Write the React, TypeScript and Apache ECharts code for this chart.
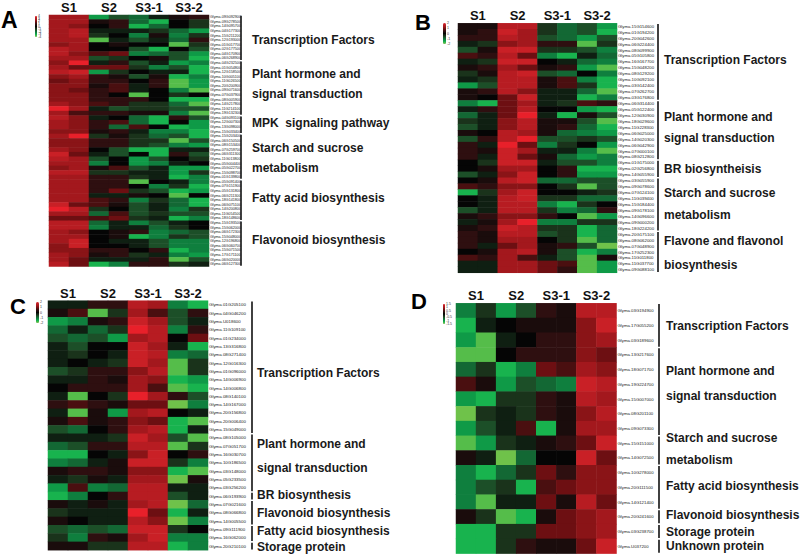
import React, { useEffect, useRef } from "react";
import * as echarts from "echarts";

const FONT = "'Liberation Sans', Arial, sans-serif";
const sampleCols = ["S1a", "S1b", "S2a", "S2b", "S3-1a", "S3-1b", "S3-2a", "S3-2b"];
const groupCols = ["S1", "S2", "S3-1", "S3-2"];
const palette = ["#6fc24a", "#55bd4a", "#18b34e", "#0f9a47", "#0f7f3e", "#136834", "#1c4f28", "#1a331b", "#0f1f12", "#050505", "#1a0c0c", "#2e0f10", "#4a0f10", "#6d0f12", "#8a1417", "#a3181d", "#b71c22", "#c92026", "#e8202a"];

const genesA = ["09G092900","09G278500","14G095700","04G177300","15G211200","12G193000","01G017700","02G177500","04G170900","06G268900","04G232500","01G054800","12G158500","10G005100","11G026500","20G200900","09G071600","07G037900","08G005900","14G217800","11G214100","19G132300","04G093100","12G007300","13G098000","15G033400","15G203400","06G150500","08G153400","07G259700","06G311300","11G013800","05G004400","05G022700","15G098700","01G139800","05G091400","07G151900","05G131800","06G211300","18G141800","06G075100","14G200800","11G054500","18G148600","15G193500","15G062000","06G172300","15G048000","12G196800","06G060700","15G071500","17G171100","06G020000","06G127300"];
const valuesA = [
[6,6,-6,-3,-4,-1,1,2],[6,6,1,2,-4,-7,0,-2],[6,5,0,2,-7,-4,0,-2],[6,7,-1,-1,-1,-2,-4,-6],[6,7,-2,0,-5,1,-5,-2],
[6,6,-8,-1,-3,-1,-4,2],[5,6,0,1,0,0,-8,-2],[7,6,0,0,-3,-7,0,-3],[7,5,3,4,-5,-4,-3,-6],[6,6,-3,-2,0,1,-3,-7],
[5,9,-1,2,-3,-1,-6,-5],[6,4,4,4,-2,-5,-3,-7],[7,8,-6,-2,0,-1,-1,-7],[5,6,2,1,-3,1,-7,-5],[4,5,2,2,0,2,-8,-6],
[5,5,1,3,-1,2,-8,-6],[5,4,2,3,-1,0,-5,-8],[5,5,2,0,-8,0,-2,0],[5,5,2,2,2,0,-7,-7],[6,5,3,2,-2,-2,-4,-8],
[9,6,-1,-3,-2,-2,-3,-3],[6,3,2,2,1,1,-5,-8],[7,5,-1,0,-4,-7,2,-3],[6,5,2,3,-4,-7,0,-6],[6,5,2,-4,3,0,-7,-6],
[5,5,1,2,-1,-5,-5,-7],[6,9,-2,1,-2,-4,-3,-7],[5,5,2,2,-2,-2,-8,-3],[5,5,2,2,-2,-3,-5,-6],[6,5,0,-3,-7,-7,-1,-1],
[8,4,-1,-3,0,-7,2,-3],[7,6,-3,0,-6,-3,0,-2],[6,6,-5,0,-6,-5,-1,0],[5,6,1,3,-3,-1,-6,-6],[7,7,-2,-2,-1,-1,-6,-2],
[6,6,2,2,-2,-1,-7,-5],[6,6,2,2,-8,0,-1,-5],[6,6,2,2,0,-5,-2,-7],[6,6,2,4,-2,-3,-7,-6],[6,6,-1,-1,1,0,-8,0],
[6,6,3,2,-5,-2,-4,-7],[8,4,3,1,-3,-1,-4,-7],[9,7,-2,0,-3,-1,-5,-2],[6,6,-4,3,-3,-2,-3,-3],[4,4,3,4,-2,-1,-7,-5],
[7,7,-4,-1,-5,-3,-1,0],[7,7,-5,-1,-1,-4,-2,0],[6,5,0,1,2,-5,-4,-3],[6,6,0,1,-7,-5,-2,-3],[6,8,0,-1,-1,-3,-5,-5],
[5,8,0,0,-1,-3,-5,-5],[5,5,2,2,0,2,-7,-5],[6,5,1,2,-2,-1,-5,-6],[6,4,-1,-1,-1,2,-8,-3],[7,4,-7,-5,2,2,-2,-1],
];

const genesB = ["15G154600","01G194200","20G042600","06G224400","08G099900","05G105800","16G167700","15G048200","08G129200","10G092100","03G142400","07G262700","03G176800","06G314400","05G122400","12G030900","18G029600","11G228300","06G025000","14G020300","06G042900","07G000100","08G212800","01G175000","02G256800","14G055900","03G055900","09G078600","07G124100","11G039400","15G184400","09G178100","14G096600","09G000200","18G224200","20G175100","08G062000","07G048900","17G252300","11G011800","11G037700","09G088100"];
const valuesB = [
[1,1,7,7,-2,-4,-3,-6],[1,2,8,6,-2,-4,-3,-7],[2,2,7,6,-3,-4,-6,-3],[-1,-2,5,6,2,2,-8,-2],[-3,1,8,8,-2,-2,-3,-5],
[3,2,7,4,-5,-7,-1,-4],[-1,-2,8,8,0,-1,-4,-5],[1,2,6,4,1,2,-6,-8],[-2,1,7,8,-3,-4,0,-5],[-1,-2,7,7,1,3,-5,-7],
[-6,-3,7,7,1,3,-2,-7],[1,2,7,5,-1,-1,-4,-8],[1,0,4,8,-1,-1,-7,-5],[-5,-7,4,6,-1,-2,3,2],[-1,2,4,7,0,0,-6,-7],
[-4,-1,4,9,-1,-7,1,-3],[-2,-1,5,7,1,1,-3,-8],[-3,-1,5,7,1,2,-4,-7],[1,0,7,6,1,-4,-5,-6],[-3,2,7,9,-3,-3,-2,-3],
[2,-1,9,4,-5,-2,0,-6],[2,1,8,6,-1,-1,-5,-8],[2,-1,8,4,1,-4,-6,-5],[0,-2,8,8,-1,-3,-3,-5],[0,1,6,6,0,2,-7,-7],
[-3,-1,5,8,0,2,-6,-6],[0,1,7,8,-4,-4,-3,-3],[3,2,5,5,0,-2,-8,-3],[-7,-2,6,8,0,0,-1,-2],[0,-1,7,8,-2,-2,-4,-4],
[0,-1,7,7,-5,-7,-2,0],[-3,-1,7,7,-2,-5,-4,2],[1,2,5,5,2,0,-8,-6],[-1,1,6,9,-5,-5,-2,-2],[1,2,8,7,-2,-2,-7,-4],
[2,1,7,7,-3,-2,-7,-4],[2,1,6,6,0,-2,-8,-4],[2,-1,4,6,1,2,-3,-9],[0,1,6,7,1,-3,-7,-5],[3,2,6,3,-1,-3,-8,1],
[-1,-1,6,6,4,3,-8,-6],[-1,-1,6,6,4,2,-8,-6],
];

const genesC = ["01G205100","04G046200","U018600","11G109100","01G234000","13G316800","08G271400","12G016300","01G096000","14G006900","14G006800","08G140100","14G167000","20G156800","20G006400","15G049000","08G105000","07G051700","16G030700","10G186500","03G148000","05G233500","03G256200","06G193900","07G021600","08G066800","14G005500","09G111900","16G062000","20G210100"];
const valuesC = [
[-1,-1,2,2,7,6,-5,-7],[1,3,-8,-2,6,3,-3,2],[-6,-5,1,2,8,6,-3,-1],[-4,-1,-4,-2,9,7,-5,2],[-3,-4,-3,-6,6,7,0,4],
[-1,-3,0,0,8,6,-1,-7],[-1,-2,0,-1,8,7,-5,-4],[-1,0,-1,-2,8,6,-8,-2],[-3,-2,2,2,5,7,-8,-2],[-1,-1,2,1,6,5,-7,-6],
[0,2,2,2,6,3,-8,-7],[-1,-8,0,-2,9,6,2,-3],[2,3,2,1,4,4,-9,-5],[-1,-8,1,-6,6,7,0,-1],[1,3,1,2,5,4,-7,-8],
[-3,-4,0,2,6,7,-7,-1],[-1,-1,-1,-2,8,6,-3,-8],[-4,-3,2,2,7,7,-8,-2],[-7,-7,0,-1,5,8,0,2],[-5,-4,-1,1,8,8,-2,-5],
[1,2,2,1,5,5,-7,-8],[-1,-2,1,-1,6,6,-9,1],[-6,3,-5,-4,7,7,-1,-1],[-7,-5,0,2,7,7,-3,-1],[1,-1,1,-1,6,7,-9,-4],
[-2,-1,-1,-1,9,4,-7,-1],[1,0,-1,-1,7,5,-9,-5],[-3,-4,-3,-4,8,8,-2,0],[-2,-5,2,1,6,8,-5,-5],[1,1,-2,-2,7,7,-7,-5],
];

const genesD = ["03G194900","17G055200","03G189600","13G217600","18G071700","19G224700","15G007000","08G201100","09G073300","15G151000","14G072500","10G278000","20G111500","14G121400","20G241600","03G238700","U037200"];
const valuesD = [
[-5,-2,-6,-3,2,1,7,7],[-7,-1,0,1,1,1,5,8],[-6,-8,-1,0,2,2,5,6],[-8,-8,0,2,2,2,5,4],[-4,-2,-7,-5,4,3,6,5],
[3,1,-6,-3,-4,-5,8,7],[-6,-7,-2,-2,2,1,7,6],[-9,-2,-1,-2,2,1,5,7],[-6,-3,-1,3,-7,1,6,6],[-8,-6,-2,-1,1,2,4,8],
[1,-1,-9,-4,0,0,8,4],[-5,-7,-4,-2,4,2,5,5],[-5,-3,-2,-7,3,4,5,5],[-5,-8,-1,-1,4,1,7,4],[1,-2,-8,-7,1,4,5,6],
[-7,-7,-2,-2,4,4,5,6],[-7,-7,-2,2,1,1,4,8],
];

const groupsA = [[0,9],[10,21],[22,25],[26,35],[36,44],[45,54]];
const groupsB = [[0,12],[13,22],[23,25],[26,34],[35,41]];
const groupsC = [[0,15],[16,22],[23,23],[24,26],[27,28],[29,29]];
const groupsD = [[0,2],[3,8],[9,10],[11,13],[14,14],[15,15],[16,16]];

const notesA: [string, number][] = [["Transcription Factors",40],["Plant hormone and",74],["signal transduction",94],["MPK  signaling pathway",123],["Starch and sucrose",148],["metabolism",168],["Fatty acid biosynthesis",198],["Flavonoid biosynthesis",240]];
const notesB: [string, number][] = [["Transcription Factors",60],["Plant hormone and",117],["signal transduction",138],["BR biosyntheisis",169],["Starch and sucrose",193],["metabolism",215],["Flavone and flavonol",241],["biosynthesis",265]];
const notesC: [string, number][] = [["Transcription Factors",373],["Plant hormone and",444],["signal transduction",468],["BR biosynthesis",495],["Flavonoid biosynthesis",513],["Fatty acid biosynthesis",531],["Storage protein",547]];
const notesD: [string, number][] = [["Transcription Factors",326],["Plant hormone and",371],["signal transduction",396],["Starch and sucrose",438],["metabolism",460],["Fatty acid biosynthesis",486],["Flavonoid biosynthesis",515],["Storage protein",532],["Unknown protein",546]];

const scaleA = ["4","3","2","1","0","-1","-2","-3","-4"];
const scaleB = ["2","1","0","-1","-2"];
const scaleC = ["2","1","0","-1","-2"];
const scaleD = ["1.5","1","0.5","0","-0.5","-1","-1.5"];

const panels = [
  { letter: "A", lx: 1, ly: 20, lf: 23, x: 49, y: 15, w: 160, h: 251.5, fs: 3.7, genes: genesA, values: valuesA, groups: groupsA, notes: notesA, barX: 241, noteX: 252, scale: scaleA, sx: 35, sy: 16, sh: 21, sw: 2 },
  { letter: "B", lx: 415, ly: 22, lf: 22, x: 458, y: 23.3, w: 159, h: 249.5, fs: 4.3, genes: genesB, values: valuesB, groups: groupsB, notes: notesB, barX: 658, noteX: 664, scale: scaleB, sx: 443, sy: 23, sh: 21, sw: 3 },
  { letter: "C", lx: 10, ly: 306, lf: 22, x: 48, y: 300.7, w: 160, h: 249.5, fs: 4.4, genes: genesC, values: valuesC, groups: groupsC, notes: notesC, barX: 252, noteX: 257, scale: scaleC, sx: 36, sy: 302, sh: 21, sw: 3 },
  { letter: "D", lx: 411, ly: 301, lf: 22, x: 456, y: 303.3, w: 160.5, h: 250.3, fs: 4.3, genes: genesD, values: valuesD, groups: groupsD, notes: notesD, barX: 659, noteX: 666, scale: scaleD, sx: 443, sy: 304, sh: 20, sw: 2 },
];

function buildOption() {
  const grid: any[] = [], xAxis: any[] = [], yAxis: any[] = [], series: any[] = [], visualMap: any[] = [], graphic: any[] = [];
  panels.forEach((p, i) => {
    grid.push({ left: p.x, top: p.y, width: p.w, height: p.h });
    xAxis.push({ type: "category", gridIndex: i, data: sampleCols, show: false });
    xAxis.push({
      type: "category", gridIndex: i, data: groupCols, position: "top",
      axisLine: { show: false }, axisTick: { show: false },
      axisLabel: { fontSize: 13, fontWeight: "bold", color: "#111", fontFamily: FONT, margin: 1 },
    });
    yAxis.push({
      type: "category", gridIndex: i, inverse: true, position: "right",
      data: p.genes.map((g) => "Glyma." + g),
      axisLine: { show: false }, axisTick: { show: false },
      axisLabel: { interval: 0, fontSize: p.fs, color: "#222", fontFamily: FONT, margin: 1 },
    });
    const data: number[][] = [];
    p.values.forEach((row, r) => row.forEach((v, c) => data.push([c, r, v])));
    series.push({
      type: "heatmap", xAxisIndex: i * 2, yAxisIndex: i, data,
      itemStyle: { borderWidth: 0 }, emphasis: { disabled: true },
    });
    visualMap.push({
      type: "continuous", seriesIndex: i, min: -9, max: 9, show: true, calculable: false,
      left: p.sx, top: p.sy, itemWidth: p.sw, itemHeight: p.sh, padding: 0, text: null,
      inRange: { color: palette }, textStyle: { fontSize: 3 },
    });
    p.scale.forEach((t, k) => {
      graphic.push({
        type: "text", x: p.sx + p.sw + 1, y: p.sy + (p.sh * k) / Math.max(1, p.scale.length - 1),
        style: { text: t, fontSize: 3.5, fill: "#333", fontFamily: FONT, verticalAlign: "middle", align: "left" },
      });
    });
    graphic.push({
      type: "text", x: p.lx, y: p.ly,
      style: { text: p.letter, fontSize: p.lf, fontWeight: "bold", fill: "#000", fontFamily: FONT, verticalAlign: "middle" },
    });
    const rh = p.h / p.genes.length;
    p.groups.forEach(([a, b]) => {
      graphic.push({
        type: "line",
        shape: { x1: p.barX, y1: p.y + a * rh + 0.8, x2: p.barX, y2: p.y + (b + 1) * rh - 0.8 },
        style: { stroke: "#111", lineWidth: 1.6 },
      });
    });
    p.notes.forEach(([t, y]) => {
      graphic.push({
        type: "text", x: p.noteX, y,
        style: { text: t, fontSize: 12, fontWeight: "bold", fill: "#1a1a1a", fontFamily: FONT, verticalAlign: "middle" },
      });
    });
  });
  return { animation: false, backgroundColor: "#fff", grid, xAxis, yAxis, series, visualMap, graphic };
}

export default function App() {
  const ref = useRef<HTMLDivElement>(null);
  useEffect(() => {
    const chart = echarts.init(ref.current!, undefined, { renderer: "svg" });
    chart.setOption(buildOption() as any);
    return () => chart.dispose();
  }, []);
  return <div ref={ref} style={{ position: "fixed", left: 0, top: 0, width: 800, height: 558 }} />;
}
